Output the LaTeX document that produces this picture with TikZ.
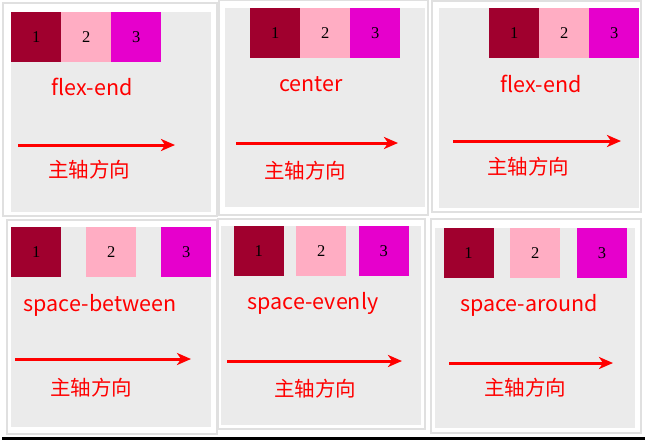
\documentclass[tikz,border=0pt]{standalone}
\usepackage{fontspec}
\setmainfont{Liberation Serif}
\newfontfamily\cjk{Noto Sans CJK SC}
\usetikzlibrary{arrows.meta}
\definecolor{bxa}{HTML}{A0002E}
\definecolor{bxb}{HTML}{FFADC3}
\definecolor{bxc}{HTML}{E600CC}
\definecolor{panelgray}{HTML}{EBEBEB}
\definecolor{framegray}{HTML}{E0E0E0}
\begin{document}
\begin{tikzpicture}[x=1pt,y=-1pt,
  frame/.style={draw=framegray,line width=1.5pt,fill=white},
  panel/.style={fill=panelgray},
  box/.style={minimum width=50pt,minimum height=50pt,inner sep=0pt,anchor=north west,font=\fontsize{16.5}{16.5}\selectfont},
  lbl/.style={text=red,font=\cjk\fontsize{21.5}{21.5}\selectfont,inner sep=0pt},
  zh/.style={text=red,font=\cjk\fontsize{20.5}{20.5}\selectfont,inner sep=0pt},
  axis/.style={red,line width=3pt,-{Stealth[length=14pt,width=12pt,inset=4pt]}}]
\useasboundingbox (0,0) rectangle (645,440);
% ---------- panel 1 ----------
\draw[frame] (3,3) rectangle (217,216);
\fill[panel] (11,12) rectangle (211,212);
\node[box,fill=bxa] (p1a) at (11,12) {1};
\node[box,fill=bxb] (p1b) at (61,12) {2};
\node[box,fill=bxc] (p1c) at (111,12) {3};
\node[lbl] (p1t) at (92,87) {flex-end};
\coordinate (p1s) at (18,145);
\coordinate (p1e) at (175,145);
\draw[axis] (p1s) -- (p1e);
\node[zh] (p1m) at (89,170) {主轴方向};
% ---------- panel 2 ----------
\draw[frame] (219,0) rectangle (428,215);
\fill[panel] (225,8) rectangle (425,207);
\node[box,fill=bxa] (p2a) at (250,8) {1};
\node[box,fill=bxb] (p2b) at (300,8) {2};
\node[box,fill=bxc] (p2c) at (350,8) {3};
\node[lbl] (p2t) at (311,84) {center};
\coordinate (p2s) at (236,143);
\coordinate (p2e) at (398,143);
\draw[axis] (p2s) -- (p2e);
\node[zh] (p2m) at (305,171) {主轴方向};
% ---------- panel 3 ----------
\draw[frame] (432,1) rectangle (641,212);
\fill[panel] (439,8) rectangle (639,208);
\node[box,fill=bxa] (p3a) at (489,8) {1};
\node[box,fill=bxb] (p3b) at (539,8) {2};
\node[box,fill=bxc] (p3c) at (589,8) {3};
\node[lbl] (p3t) at (541,84) {flex-end};
\coordinate (p3s) at (453,141);
\coordinate (p3e) at (621,141);
\draw[axis] (p3s) -- (p3e);
\node[zh] (p3m) at (528,167) {主轴方向};
% ---------- panel 4 ----------
\draw[frame] (7,220) rectangle (217,434);
\fill[panel] (11,227) rectangle (211,427);
\node[box,fill=bxa] (p4a) at (11,227) {1};
\node[box,fill=bxb] (p4b) at (86,227) {2};
\node[box,fill=bxc] (p4c) at (161,227) {3};
\node[lbl] (p4t) at (100,305) {space-between};
\coordinate (p4s) at (15,359);
\coordinate (p4e) at (191,359);
\draw[axis] (p4s) -- (p4e);
\node[zh] (p4m) at (91,388) {主轴方向};
% ---------- panel 5 ----------
\draw[frame] (218,219) rectangle (425,429);
\fill[panel] (221,226) rectangle (421,425);
\node[box,fill=bxa] (p5a) at (233.5,226) {1};
\node[box,fill=bxb] (p5b) at (296,226) {2};
\node[box,fill=bxc] (p5c) at (358.5,226) {3};
\node[lbl] (p5t) at (313,303) {space-evenly};
\coordinate (p5s) at (227,361);
\coordinate (p5e) at (402,361);
\draw[axis] (p5s) -- (p5e);
\node[zh] (p5m) at (315,389) {主轴方向};
% ---------- panel 6 ----------
\draw[frame] (431,219) rectangle (641,433);
\fill[panel] (435,228) rectangle (635,428);
\node[box,fill=bxa] (p6a) at (443.3,228) {1};
\node[box,fill=bxb] (p6b) at (510,228) {2};
\node[box,fill=bxc] (p6c) at (576.7,228) {3};
\node[lbl] (p6t) at (529,305) {space-around};
\coordinate (p6s) at (449,363);
\coordinate (p6e) at (613,363);
\draw[axis] (p6s) -- (p6e);
\node[zh] (p6m) at (525,388) {主轴方向};
% ---------- bottom rule ----------
\draw[black,line width=2.5pt] (2,438.5) -- (645,438.5);
\end{tikzpicture}
\end{document}
